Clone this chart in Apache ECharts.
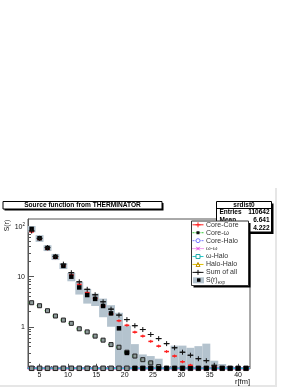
<!DOCTYPE html>
<html><head><meta charset="utf-8">
<script src="https://cdn.jsdelivr.net/npm/echarts@6/dist/echarts.min.js"></script>
<style>html,body{margin:0;padding:0;background:#fff;}#c{width:300px;height:388px;}</style>
</head><body><div id="c"></div>
<script>
// ---- data ----
const binCenters = [3.6,5.0,6.4,7.8,9.2,10.6,12.0,13.4,14.8,16.2,17.6,19.0,20.4,21.8,23.2,24.6,26.0,27.4,28.8,30.2,31.6,33.0,34.4,35.8,37.2,38.6,40.0,41.4];
const sExp      = [90,58.6,37.5,25,16.4,10,6.1,4.3,3.6,2.6,1.85,0.93,0.30,0,0,0,0,0,0,0,0,0,0,0,0,0,0,0];
const sExpErr   = [13,9,5,3.5,2.2,1.9,1.7,1.4,1.0,1.05,0.85,0.97,0.75,0.45,0.28,0.26,0.23,0,0.42,0.42,0.38,0.41,0.46,0.21,0.18,0.165,0.155,0];
const coreCore  = [79,55.8,36,23.8,16.4,10.8,7.0,4.8,3.7,2.6,1.8,1.32,1.07,0.78,0.65,0.51,0.41,0.32,0.26,0.20,0.17,null,null,0.16,null,null,null,null];
const coreOmega = [3.02,2.63,2.09,1.64,1.36,1.17,0.91,0.79,0.65,0.54,0.44,0.39,0.31,0.26,0.22,0.19,0.16,null,null,null,null,null,null,null,null,null,null,null];
const coreHalo  = [0,0,0,0,0,0,0,0,0,0,0,0,0,0,0,0,0,0,0,0,0,0,0,0,0,0,0,0];
const omegaOmega= [0,0,0,0,0,0,0,0,0,0,0,0,0,0,0,0,0,0,0,0,0,0,0,0,0,0,0,0];
const omegaHalo = [0,0,0,0,0,0,0,0,0,0,0,0,0,0,0,0,0,0,0,0,0,0,0,0,0,0,0,0];
const haloHalo  = [0,0,0,0,0,0,0,0,0,0,0,0,0,0,0,0,0,0,0,0,0,0,0,0,0,0,0,0];
const sumAll    = [82,58.4,38.1,25.4,17.8,12.0,7.9,5.6,4.35,3.15,2.25,1.71,1.39,1.05,0.88,0.70,0.58,0.46,0.38,0.31,0.27,0.23,0.21,0.17,null,null,null,null];
const xMajorTicks = [5,10,15,20,25,30,35,40];
const xMinorTicks = [3,4,6,7,8,9,11,12,13,14,16,17,18,19,21,22,23,24,26,27,28,29,31,32,33,34,36,37,38,39,41,42];
const yMajorTicks = [1,10,100];
const yMinorTicks = [0.2,0.3,0.4,0.5,0.6,0.7,0.8,0.9,2,3,4,5,6,7,8,9,20,30,40,50,60,70,80,90];
const statsLabels = ['Entries','Mean','RMS'];
const statsValues = ['110642','6.641','4.222'];
const legendNames = ['Core-Core','Core-ω','Core-Halo','ω-ω','ω-Halo','Halo-Halo','Sum of all','S(r)'];

const Y_MIN = 0.148, Y_MAX = 142, X_MIN = 2.96, X_MAX = 42.1, BIN_W = 1.4;
const BAND = '#b4c3ce';
const FONT = '"Liberation Sans", Arial, Helvetica, sans-serif';

const chart = echarts.init(document.getElementById('c'));

function yDisp(v){ return v > Y_MIN ? v : Y_MIN; }

function bandSeries(){
  return {
    type:'custom', name:'band', z:1, silent:true, clip:false,
    xAxisIndex:0, yAxisIndex:0,
    data: binCenters.map((x,i)=>[x, sExp[i], sExpErr[i]]),
    renderItem(params, api){
      const x = api.value(0), v = api.value(1), e = api.value(2);
      const hi = Math.min(v+e, Y_MAX), lo = Math.max(v-e, Y_MIN);
      if (!(hi > Y_MIN)) return null;
      const p1 = api.coord([x-BIN_W/2, hi]), p2 = api.coord([x+BIN_W/2, lo]);
      return {type:'rect', shape:{x:p1[0], y:p1[1], width:p2[0]-p1[0], height:p2[1]-p1[1]}, style:{fill:BAND}};
    }
  };
}

function marker(kind, cx, cy, s, st){
  const h = s/2;
  switch(kind){
    case 'plus': return [{type:'line', shape:{x1:cx, y1:cy-h, x2:cx, y2:cy+h}, style:{stroke:st.color, lineWidth:st.lw||1}},
                         {type:'line', shape:{x1:cx-h, y1:cy, x2:cx+h, y2:cy}, style:{stroke:st.color, lineWidth:st.lw||1}}];
    case 'square': return [{type:'rect', shape:{x:cx-h, y:cy-h, width:s, height:s}, style:{fill:st.fill, stroke:st.stroke||null, lineWidth:st.lw||1}}];
    case 'circle': return [{type:'circle', shape:{cx:cx, cy:cy, r:h}, style:{fill:st.fill||'none', stroke:st.stroke, lineWidth:1}}];
    case 'x': return [{type:'line', shape:{x1:cx-h, y1:cy-h, x2:cx+h, y2:cy+h}, style:{stroke:st.stroke, lineWidth:1}},
                      {type:'line', shape:{x1:cx-h, y1:cy+h, x2:cx+h, y2:cy-h}, style:{stroke:st.stroke, lineWidth:1}}];
    case 'tri': return [{type:'polygon', shape:{points:[[cx,cy-h],[cx+h,cy+h],[cx-h,cy+h]]}, style:{fill:st.fill||'none', stroke:st.stroke, lineWidth:1}}];
  }
  return [];
}

function pointSeries(name, values, st){
  return {
    type:'custom', name, z:st.z, silent:true, clip:false,
    xAxisIndex:0, yAxisIndex:0,
    data: binCenters.map((x,i)=> values[i]==null ? null : [x, values[i]]).filter(d=>d),
    renderItem(params, api){
      const x = api.value(0), v = yDisp(api.value(1));
      const c = api.coord([x, v]);
      const half = (api.coord([x+BIN_W/2, v])[0] - c[0]) * (st.barFrac||0);
      let kids = [];
      if (st.barColor && half>0) kids.push({type:'line', shape:{x1:c[0]-half, y1:c[1], x2:c[0]+half, y2:c[1]},
                                 style:{stroke:st.barColor, lineWidth:st.barWidth||1, lineDash:st.barDash||null}});
      if (st.marker) kids = kids.concat(marker(st.marker, c[0], c[1], st.size, st.mstyle));
      return {type:'group', children:kids};
    }
  };
}

const series = [
  bandSeries(),
  pointSeries('Core-Halo', coreHalo, {z:2, barColor:'#6b6bff', barFrac:1, marker:'circle', size:4, mstyle:{stroke:'#6b6bff', fill:'#fff'}}),
  pointSeries('Halo-Halo', haloHalo, {z:3, barColor:'#e0c000', barFrac:1, marker:'tri', size:4, mstyle:{stroke:'#d9a000'}}),
  pointSeries('ω-ω', omegaOmega, {z:4, barColor:'#d040d0', barFrac:1, barWidth:2.5, marker:'x', size:4, mstyle:{stroke:'#d040d0'}}),
  pointSeries('ω-Halo', omegaHalo, {z:5, barColor:'#22cccc', barFrac:1, barWidth:1.5, marker:'square', size:4.5, mstyle:{fill:'#8a9596', stroke:'#222'}}),
  pointSeries('Core-ω', coreOmega, {z:6, barColor:'#33cc33', barFrac:0.75, barDash:[2,1], marker:'square', size:4, mstyle:{fill:'#8e9a9a', stroke:'#222'}}),
  pointSeries('Core-Core', coreCore, {z:7, barColor:'#ff2020', barFrac:0.6, barWidth:1.5, marker:'plus', size:3, mstyle:{color:'#ff2020'}}),
  pointSeries('S(r)exp', sExp, {z:8, marker:'square', size:4.5, mstyle:{fill:'#000'}}),
  pointSeries('Sum of all', sumAll, {z:9, barColor:'#111', barFrac:0.75, marker:'plus', size:5, mstyle:{color:'#111'}})
];

function yLabel(v){ if (v===100) return '{b|10}{s|2}'; return '{b|' + v + '}'; }

// legend & boxes as graphic
const LX = 191.5, LY = 221, LW = 57, LH = 64.5, STEP = 7.93;
const legendStyles = [
  {line:'#ff2020', dash:null, m:'plus', ms:{color:'#ff2020'}, sz:5},
  {line:'#33cc33', dash:[2,1], m:'square', ms:{fill:'#111'}, sz:3},
  {line:'#7a7aff', dash:[2,1], m:'circle', ms:{stroke:'#7a7aff', fill:'#fff'}, sz:4},
  {line:'#e040e0', dash:[1,1], m:'x', ms:{stroke:'#e040e0'}, sz:3.5},
  {line:'#22cccc', dash:null, m:'square', ms:{fill:'#fff', stroke:'#22aaaa'}, sz:4},
  {line:'#e0c000', dash:null, m:'tri', ms:{stroke:'#c09000'}, sz:4},
  {line:'#111', dash:null, m:'plus', ms:{color:'#111'}, sz:5},
  {box:true}
];
const graphics = [];
// canvas shading
graphics.push({type:'rect', shape:{x:275, y:188, width:2, height:198}, style:{fill:'#e6e6e6'}, silent:true});
graphics.push({type:'rect', shape:{x:0, y:385, width:277, height:2}, style:{fill:'#e6e6e6'}, silent:true});
// title box
graphics.push({type:'rect', shape:{x:4.5, y:203, width:159, height:7.5}, style:{fill:'#000'}, z:10});
graphics.push({type:'rect', shape:{x:3, y:201.5, width:159, height:7.5}, style:{fill:'#fff', stroke:'#000', lineWidth:1}, z:11});
graphics.push({type:'text', x:82.5, y:205.4, style:{text:'Source function from THERMINATOR', font:'bold 6.6px '+FONT, fill:'#000', align:'center', verticalAlign:'middle'}, z:12});
// stats box
const SX = 216.5, SY = 201.5, SW = 55, SH = 30.5;
graphics.push({type:'rect', shape:{x:SX+2, y:SY+2, width:SW, height:SH}, style:{fill:'#000'}, z:10});
graphics.push({type:'rect', shape:{x:SX, y:SY, width:SW, height:SH}, style:{fill:'#fff', stroke:'#000', lineWidth:1}, z:11});
graphics.push({type:'line', shape:{x1:SX, y1:SY+7, x2:SX+SW, y2:SY+7}, style:{stroke:'#000', lineWidth:1}, z:12});
graphics.push({type:'text', x:SX+SW/2, y:SY+3.6, style:{text:'srdist0', font:'bold 6.5px '+FONT, fill:'#000', align:'center', verticalAlign:'middle'}, z:12});
statsLabels.forEach((t,i)=>{
  graphics.push({type:'text', x:SX+3, y:SY+11.2+i*7.6, style:{text:t, font:'bold 6.5px '+FONT, fill:'#000', align:'left', verticalAlign:'middle'}, z:12});
  graphics.push({type:'text', x:SX+SW-2, y:SY+11.2+i*7.6, style:{text:statsValues[i], font:'bold 6.5px '+FONT, fill:'#000', align:'right', verticalAlign:'middle'}, z:12});
});
// legend box
graphics.push({type:'rect', shape:{x:LX+2, y:LY+2, width:LW, height:LH}, style:{fill:'#000'}, z:20});
graphics.push({type:'rect', shape:{x:LX, y:LY, width:LW, height:LH}, style:{fill:'#fff', stroke:'#333', lineWidth:1}, z:21});
legendNames.forEach((n,i)=>{
  const cy = LY + 3.8 + i*STEP, st = legendStyles[i];
  if (st.box){
    graphics.push({type:'rect', shape:{x:LX+1.5, y:cy-3, width:11, height:6}, style:{fill:BAND}, z:22});
    graphics.push({type:'rect', shape:{x:LX+5.5, y:cy-2, width:3.5, height:3.5}, style:{fill:'#000'}, z:23});
    graphics.push({type:'text', x:LX+14.5, y:cy, style:{text:'{a|S(r)}{e|exp}', rich:{a:{font:'7px '+FONT, fill:'#333'}, e:{font:'4.5px '+FONT, fill:'#333', padding:[4,0,0,0]}}, align:'left', verticalAlign:'middle'}, z:23});
    return;
  }
  graphics.push({type:'line', shape:{x1:LX+1, y1:cy, x2:LX+12, y2:cy}, style:{stroke:st.line, lineWidth:1, lineDash:st.dash}, z:22});
  marker(st.m, LX+6.5, cy, st.sz, st.ms).forEach(el=>{ el.z = 23; graphics.push(el); });
  graphics.push({type:'text', x:LX+14.5, y:cy, style:{text:n, font:(n==='ω-ω'?'6px ':'7px ')+FONT, fill:'#333', align:'left', verticalAlign:'middle'}, z:23});
});
// axis titles
graphics.push({type:'text', x:7.5, y:225.5, rotation:Math.PI/2, style:{text:'S(r)', font:'6.8px '+FONT, fill:'#111', align:'center', verticalAlign:'middle'}, z:5});
graphics.push({type:'text', x:250, y:381.5, style:{text:'r[fm]', font:'7.5px '+FONT, fill:'#111', align:'right', verticalAlign:'middle'}, z:5});

const option = {
  animation:false,
  grid:{left:28, top:219, width:222, height:149.3, show:true, borderColor:'#555', borderWidth:1, backgroundColor:'transparent'},
  xAxis:[
    {type:'value', min:X_MIN, max:X_MAX, position:'bottom',
     axisLine:{show:true, lineStyle:{color:'#555'}},
     axisTick:{show:true, inside:true, length:4.5, customValues:xMajorTicks, lineStyle:{color:'#555'}},
     axisLabel:{show:true, customValues:xMajorTicks, margin:3, fontSize:7, fontFamily:FONT, color:'#111'},
     splitLine:{show:false}},
    {type:'value', min:X_MIN, max:X_MAX, position:'bottom', gridIndex:0,
     axisLine:{show:false},
     axisTick:{show:true, inside:true, length:2.3, customValues:xMinorTicks, lineStyle:{color:'#555'}},
     axisLabel:{show:false}, splitLine:{show:false}}
  ],
  yAxis:[
    {type:'log', logBase:10, min:Y_MIN, max:Y_MAX, position:'left',
     axisLine:{show:true, lineStyle:{color:'#555'}},
     axisTick:{show:true, inside:true, length:6, customValues:yMajorTicks, lineStyle:{color:'#555'}},
     axisLabel:{show:true, customValues:yMajorTicks, margin:3, formatter:yLabel,
                rich:{b:{fontSize:7, fontFamily:FONT, color:'#111'}, s:{fontSize:4.5, fontFamily:FONT, color:'#111', padding:[0,0,4,0]}}},
     splitLine:{show:false}},
    {type:'log', logBase:10, min:Y_MIN, max:Y_MAX, position:'left', gridIndex:0,
     axisLine:{show:false},
     axisTick:{show:true, inside:true, length:3, customValues:yMinorTicks, lineStyle:{color:'#555'}},
     axisLabel:{show:false}, splitLine:{show:false}}
  ],
  series: series,
  graphic: graphics
};
chart.setOption(option);
</script>
</body></html>
